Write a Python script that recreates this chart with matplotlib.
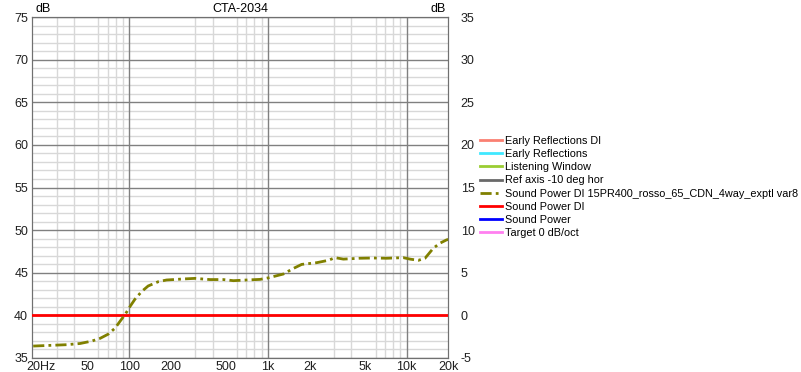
import matplotlib.pyplot as plt
import matplotlib.transforms as mtransforms
from matplotlib.lines import Line2D
from matplotlib.ticker import FixedLocator, NullFormatter
import numpy as np

plt.rcParams['font.family'] = ['Liberation Sans', 'DejaVu Sans']
plt.rcParams['axes.unicode_minus'] = False

# ------------------------------------------------------------------------------------
# ------------------- Data ----------------------------------------------------------
# ------------------------------------------------------------------------------------
# Sound Power DI of the measured speaker, right axis (dB)
freq = [20.3, 26.8, 35.4, 44.2, 53.6, 61.6, 70.6, 79, 85.8, 93.2, 101.4, 110, 123, 137,
        162, 186, 245, 298, 382, 477, 564, 703, 877, 1007, 1292, 1525, 1753, 2249, 2730,
        3050, 3500, 4615, 5760, 7190, 9470, 10590, 12170, 13590, 15600, 17420, 19460, 20000]
di_var8 = [-3.6, -3.52, -3.44, -3.3, -3.02, -2.7, -2.2, -1.5, -0.7, 0.08, 1.05, 1.9, 2.8,
           3.45, 3.95, 4.15, 4.27, 4.34, 4.2, 4.2, 4.07, 4.15, 4.22, 4.4, 4.85, 5.5, 5.98,
           6.18, 6.46, 6.77, 6.6, 6.7, 6.73, 6.7, 6.77, 6.6, 6.46, 6.7, 7.88, 8.47, 8.86, 8.9]

# flat reference Sound Power DI
sp_di_freq = [20, 20000]
sp_di = [0, 0]

legend_names = ['Early Reflections DI', 'Early Reflections', 'Listening Window',
                'Ref axis -10 deg hor', 'Sound Power DI 15PR400_rosso_65_CDN_4way_exptl var8',
                'Sound Power DI', 'Sound Power', 'Target 0 dB/oct']
legend_colors = ['#FA8072', '#40E8FF', '#9ACD32', '#696969', '#808000', '#FF0000', '#0000FF', '#FF80F0']

left_ticks = [35, 40, 45, 50, 55, 60, 65, 70, 75]
right_ticks = [-5, 0, 5, 10, 15, 20, 25, 30, 35]
x_ticks = [20, 50, 100, 200, 500, 1000, 2000, 5000, 10000, 20000]
x_ticklabels = ['20Hz', '50', '100', '200', '500', '1k', '2k', '5k', '10k', '20k']

# ------------------------------------------------------------------------------------
# ------------------- Figure layout ---------------------------------------------------
# ------------------------------------------------------------------------------------
fig = plt.figure(figsize=(8.01, 3.72), dpi=100)
ax1 = fig.add_axes([32.3 / 801, 14 / 372, 416 / 801, 341 / 372])
ax2 = ax1.twinx()

ax1.set_xscale('log')
ax1.set_xlim(20, 20000)
ax1.set_ylim(35, 75)
ax2.set_ylim(-5, 35)

# ------ grid --------
minor_x = [f * d for d in [10, 100, 1000] for f in range(2, 10)] + [30, 40, 50, 60, 70, 80, 90]
minor_x = sorted(set([m for m in minor_x if 20 < m < 20000]))
ax1.xaxis.set_minor_locator(FixedLocator(minor_x))
ax1.xaxis.set_minor_formatter(NullFormatter())
ax1.xaxis.set_major_locator(FixedLocator(x_ticks))
ax1.set_xticklabels(x_ticklabels)
ax1.yaxis.set_major_locator(FixedLocator(left_ticks))
ax1.yaxis.set_minor_locator(FixedLocator(np.arange(35, 76, 1)))
ax2.yaxis.set_major_locator(FixedLocator(right_ticks))

for f in [100, 1000, 10000]:
    ax1.axvline(f, color='#808080', lw=1, zorder=1)
for y in left_ticks:
    ax1.axhline(y, color='#808080', lw=1, zorder=1)
ax1.grid(which='minor', color='#d8d8d8', lw=1, zorder=0)
ax1.set_axisbelow(True)

for ax in [ax1, ax2]:
    for axis in ['top', 'bottom', 'left', 'right']:
        ax.spines[axis].set_color('#707070')
    ax.tick_params(which='both', length=0, labelsize=9, colors='#202020')
ax1.tick_params(axis='y', pad=3)
ax2.tick_params(axis='y', pad=9)
ax1.tick_params(axis='x', pad=2.5)

# shift the 20Hz label like the original
labels = ax1.get_xticklabels()
off = mtransforms.ScaledTranslation(9 / 100, 0, fig.dpi_scale_trans)
labels[0].set_transform(labels[0].get_transform() + off)

# -------- Add data -----------
ax2.plot(sp_di_freq, sp_di, color='#FF0000', lw=2, zorder=3)
ax2.plot(freq, di_var8, color='#808000', lw=2, ls=(0, (4, 1.5, 1, 1.5)), zorder=4)

# ------- titles --------
fig.text(0.5 * (32.3 + 448.3) / 801, 1 - 9 / 372, 'CTA-2034', ha='center', va='center', fontsize=9)
fig.text(36 / 801, 1 - 9 / 372, 'dB', ha='left', va='center', fontsize=9)
fig.text(446 / 801, 1 - 9 / 372, 'dB', ha='right', va='center', fontsize=9)

# ------- legend (outside right) --------
handles = []
for name, c in zip(legend_names, legend_colors):
    if 'var8' in name:
        handles.append(Line2D([], [], color=c, lw=2, ls=(0, (4, 1.5, 1, 1.5))))
    else:
        handles.append(Line2D([], [], color=c, lw=2))
fig.legend(handles, legend_names, loc='upper left', bbox_to_anchor=(480 / 801, 1 - 136 / 372),
           frameon=False, fontsize=7.8, handlelength=2.0, handletextpad=0.35,
           labelspacing=0.29, borderaxespad=0, borderpad=0)

plt.savefig('out.png', dpi=100)
